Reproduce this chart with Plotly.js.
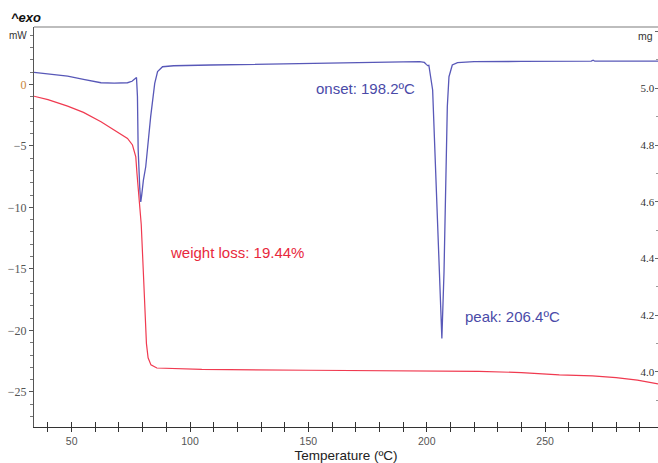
<!DOCTYPE html>
<html>
<head>
<meta charset="utf-8">
<script src="https://cdn.plot.ly/plotly-3.0.1.min.js"></script>
<style>
  html, body { margin: 0; padding: 0; background: #ffffff; }
  #chart { width: 658px; height: 463px; }
</style>
</head>
<body>
<div id="chart"></div>
<script>
// DSC heat flow (mW) against temperature (°C)
const dscTemp = [34.1, 40, 48.3, 55, 62.4, 68, 73.6, 75.5, 76.8, 77.4, 77.8, 78.1, 78.8, 79.2, 79.6, 80.3, 81.3, 83.4, 85.1, 86.3, 88.4, 93.1, 108.7, 130, 150, 170, 190, 197, 199, 199.8, 200.4, 200.9, 201.7, 202.5, 203.8, 205.3, 206.4, 207.3, 208.0, 208.7, 209.4, 210.8, 213, 220, 240, 260, 269.5, 270.3, 271, 280, 297.7];
const dscHeatFlow = [0.97, 0.85, 0.67, 0.40, 0.13, 0.10, 0.13, 0.25, 0.45, 0.55, -1.0, -5.3, -8.5, -9.55, -9.0, -7.8, -6.7, -2.6, 0.08, 1.03, 1.43, 1.51, 1.57, 1.62, 1.68, 1.75, 1.82, 1.84, 1.78, 1.62, 1.52, 1.55, 0.62, -0.46, -7.2, -15.4, -20.65, -15.3, -7.2, -1.8, 0.62, 1.57, 1.76, 1.84, 1.86, 1.87, 1.88, 1.96, 1.88, 1.88, 1.88];

// TG sample mass (mg) against temperature (°C)
const tgTemp = [34.1, 40, 48.3, 55, 62.4, 69.4, 73.6, 75.7, 77.1, 77.6, 78.5, 79.4, 80.3, 81.0, 81.6, 82.3, 83.5, 86, 105, 150, 190, 222, 240, 256, 270, 280, 289, 297.7];
const tgMass = [4.972, 4.960, 4.937, 4.915, 4.882, 4.847, 4.823, 4.800, 4.758, 4.700, 4.594, 4.520, 4.350, 4.200, 4.100, 4.050, 4.025, 4.014, 4.009, 4.006, 4.004, 4.002, 3.998, 3.990, 3.986, 3.980, 3.971, 3.958];

// Axis ticks
const heatFlowTicks = [-25, -20, -15, -10, -5, 0];
const heatFlowTickText = ['\u221225', '\u221220', '\u221215', '\u221210', '\u22125', '<span style="color:#c8843c">0</span>'];
const tempTicks = [50, 100, 150, 200, 250];

// Annotated results
const onsetText = 'onset: 198.2\u00baC';
const peakText = 'peak: 206.4\u00baC';
const lossText = 'weight loss: 19.44%';

const xRange = [34.1, 297.7];

const traces = [
  {
    x: dscTemp, y: dscHeatFlow, type: 'scatter', mode: 'lines',
    xaxis: 'x', yaxis: 'y',
    line: { color: '#5858b8', width: 1.3 },
    hoverinfo: 'skip', showlegend: false
  },
  {
    x: tgTemp, y: tgMass, type: 'scatter', mode: 'lines',
    xaxis: 'x', yaxis: 'y2',
    line: { color: '#f03a50', width: 1.2 },
    hoverinfo: 'skip', showlegend: false
  },
  {
    // carries the upper half of the crossing temperature ticks
    x: [], y: [], type: 'scatter', mode: 'lines',
    xaxis: 'x2', yaxis: 'y', hoverinfo: 'skip', showlegend: false
  }
];

const serif = 'Liberation Serif, Times New Roman, serif';
const sans = 'Liberation Sans, Arial, sans-serif';

const layout = {
  width: 658, height: 463,
  margin: { l: 34, r: 0, t: 27, b: 36, pad: 0 },
  paper_bgcolor: '#ffffff', plot_bgcolor: '#ffffff',
  showlegend: false,
  xaxis: {
    range: xRange,
    tickvals: tempTicks,
    ticks: 'outside', ticklen: 4, tickwidth: 1, tickcolor: '#333',
    minor: { dtick: 10, tick0: 0, ticks: 'outside', ticklen: 4, tickwidth: 1, tickcolor: '#333' },
    showline: true, linecolor: '#333', linewidth: 1,
    showgrid: false, zeroline: false,
    tickfont: { family: sans, size: 10.5, color: '#555' },
    title: { text: 'Temperature (\u00baC)', font: { family: sans, size: 13.5, color: '#222' }, standoff: 5 }
  },
  xaxis2: {
    range: xRange, overlaying: 'x', anchor: 'y', side: 'bottom',
    tick0: 0, dtick: 10,
    ticks: 'inside', ticklen: 5, tickwidth: 1, tickcolor: '#333',
    showticklabels: false, showline: false, showgrid: false, zeroline: false
  },
  yaxis: {
    range: [-27.85, 4.66],
    tickvals: heatFlowTicks, ticktext: heatFlowTickText,
    ticks: 'outside', ticklen: 4, tickwidth: 1, tickcolor: '#555',
    minor: { dtick: 1, tick0: 0, ticks: 'outside', ticklen: 3, tickwidth: 1, tickcolor: '#777' },
    showline: true, linecolor: '#555', linewidth: 1,
    showgrid: false, zeroline: false,
    tickfont: { family: serif, size: 12, color: '#555' }
  },
  yaxis2: {
    range: [3.806, 5.216], overlaying: 'y', side: 'right', anchor: 'x',
    tick0: 4.0, dtick: 0.2, tickformat: '.1f',
    ticks: 'inside', ticklen: 3, tickwidth: 1, tickcolor: '#666',
    ticklabelposition: 'inside',
    minor: { dtick: 0.1, tick0: 4.0, ticks: 'inside', ticklen: 2, tickwidth: 1, tickcolor: '#999' },
    showline: false, showgrid: false, zeroline: false,
    tickfont: { family: serif, size: 11, color: '#333' }
  },
  shapes: [
    { type: 'line', xref: 'paper', yref: 'paper', x0: 0, x1: 1, y0: 1, y1: 1,
      line: { color: '#bdbdbd', width: 2 } }
  ],
  annotations: [
    { text: '<b><i>^exo</i></b>', xref: 'paper', yref: 'paper', x: -0.04, y: 1.023,
      xanchor: 'left', yanchor: 'middle', showarrow: false,
      font: { family: sans, size: 13, color: '#111' } },
    { text: 'mW', xref: 'paper', yref: 'paper', x: -0.008, y: 0.98,
      xanchor: 'right', yanchor: 'middle', showarrow: false,
      font: { family: sans, size: 10, color: '#333' } },
    { text: 'mg', xref: 'paper', yref: 'paper', x: 0.995, y: 0.9775,
      xanchor: 'right', yanchor: 'middle', showarrow: false,
      font: { family: sans, size: 10.5, color: '#333' } },
    { text: onsetText, xref: 'x', yref: 'y', x: 196.0, y: -0.3,
      xanchor: 'right', yanchor: 'middle', showarrow: false,
      font: { family: sans, size: 15, color: '#4a4aa8' } },
    { text: lossText, xref: 'x', yref: 'y', x: 90.6, y: -13.7,
      xanchor: 'left', yanchor: 'middle', showarrow: false,
      font: { family: sans, size: 15, color: '#e8283c' } },
    { text: peakText, xref: 'x', yref: 'y', x: 215.2, y: -18.9,
      xanchor: 'left', yanchor: 'middle', showarrow: false,
      font: { family: sans, size: 15, color: '#4a4aa8' } }
  ]
};

Plotly.newPlot('chart', traces, layout, { staticPlot: true, displayModeBar: false });
</script>
</body>
</html>
